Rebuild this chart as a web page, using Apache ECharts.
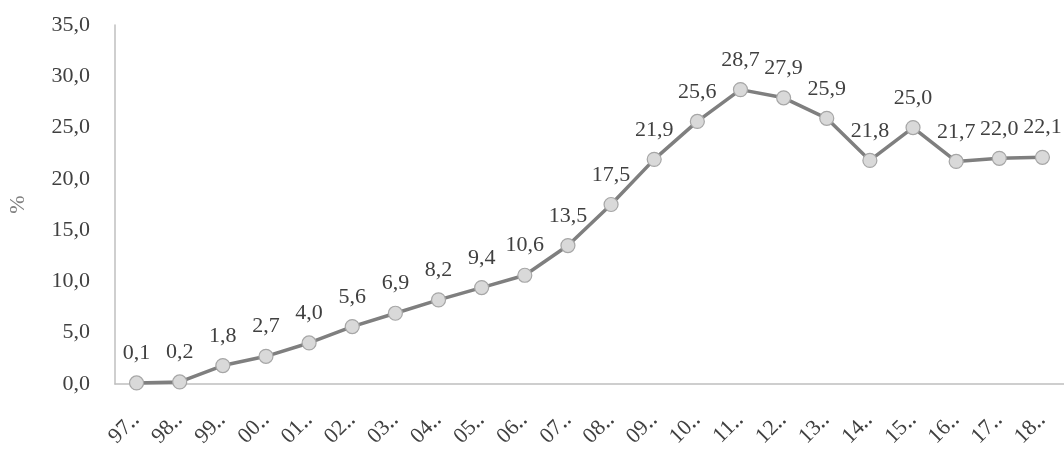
<!DOCTYPE html>
<html>
<head>
<meta charset="utf-8">
<script src="https://cdn.jsdelivr.net/npm/echarts@6/dist/echarts.min.js"></script>
<style>
  html, body { margin: 0; padding: 0; background: #ffffff; }
  #chart { width: 1064px; height: 450px; }
</style>
</head>
<body>
<div id="chart"></div>
<script>
// Season labels (shortened, as on the axis)
const categories = ['97‥','98‥','99‥','00‥','01‥','02‥','03‥','04‥','05‥','06‥','07‥',
                    '08‥','09‥','10‥','11‥','12‥','13‥','14‥','15‥','16‥','17‥','18‥'];
// Share in percent
const values = [0.1, 0.2, 1.8, 2.7, 4.0, 5.6, 6.9, 8.2, 9.4, 10.6, 13.5,
                17.5, 21.9, 25.6, 28.7, 27.9, 25.9, 21.8, 25.0, 21.7, 22.0, 22.1];
const yMin = 0, yMax = 35, yStep = 5;

const fmt = v => v.toFixed(1).replace('.', ',');
const serif = '"Liberation Serif", "Times New Roman", serif';

const chart = echarts.init(document.getElementById('chart'), null, { renderer: 'canvas' });
chart.setOption({
  animation: false,
  backgroundColor: '#ffffff',
  grid: { left: 115, right: 0, top: 25, bottom: 66, containLabel: false, outerBoundsMode: 'none' },
  xAxis: {
    type: 'category',
    data: categories,
    boundaryGap: true,
    axisLine: { show: true, lineStyle: { color: '#bfbfbf', width: 1.5 } },
    axisTick: { show: false },
    axisLabel: {
      rotate: 45,
      margin: 32,
      interval: 0,
      color: '#404040',
      fontFamily: serif,
      fontSize: 22
    },
    splitLine: { show: false }
  },
  yAxis: {
    type: 'value',
    min: yMin,
    max: yMax,
    interval: yStep,
    name: '%',
    nameLocation: 'middle',
    nameGap: 86,
    nameRotate: 90,
    nameTextStyle: { color: '#808080', fontFamily: serif, fontSize: 22 },
    axisLine: { show: true, lineStyle: { color: '#bfbfbf', width: 1.5 } },
    axisTick: { show: false },
    splitLine: { show: false },
    axisLabel: {
      margin: 25,
      color: '#404040',
      fontFamily: serif,
      fontSize: 22,
      formatter: v => fmt(v)
    }
  },
  series: [{
    type: 'line',
    data: values,
    symbol: 'circle',
    symbolSize: 14,
    lineStyle: { color: '#7f7f7f', width: 3.5 },
    itemStyle: { color: '#d9d9d9', borderColor: '#a6a6a6', borderWidth: 1.2 },
    label: {
      show: true,
      position: 'top',
      distance: 11,
      color: '#404040',
      fontFamily: serif,
      fontSize: 22,
      formatter: p => fmt(p.value)
    },
    z: 3
  }]
});
</script>
</body>
</html>
